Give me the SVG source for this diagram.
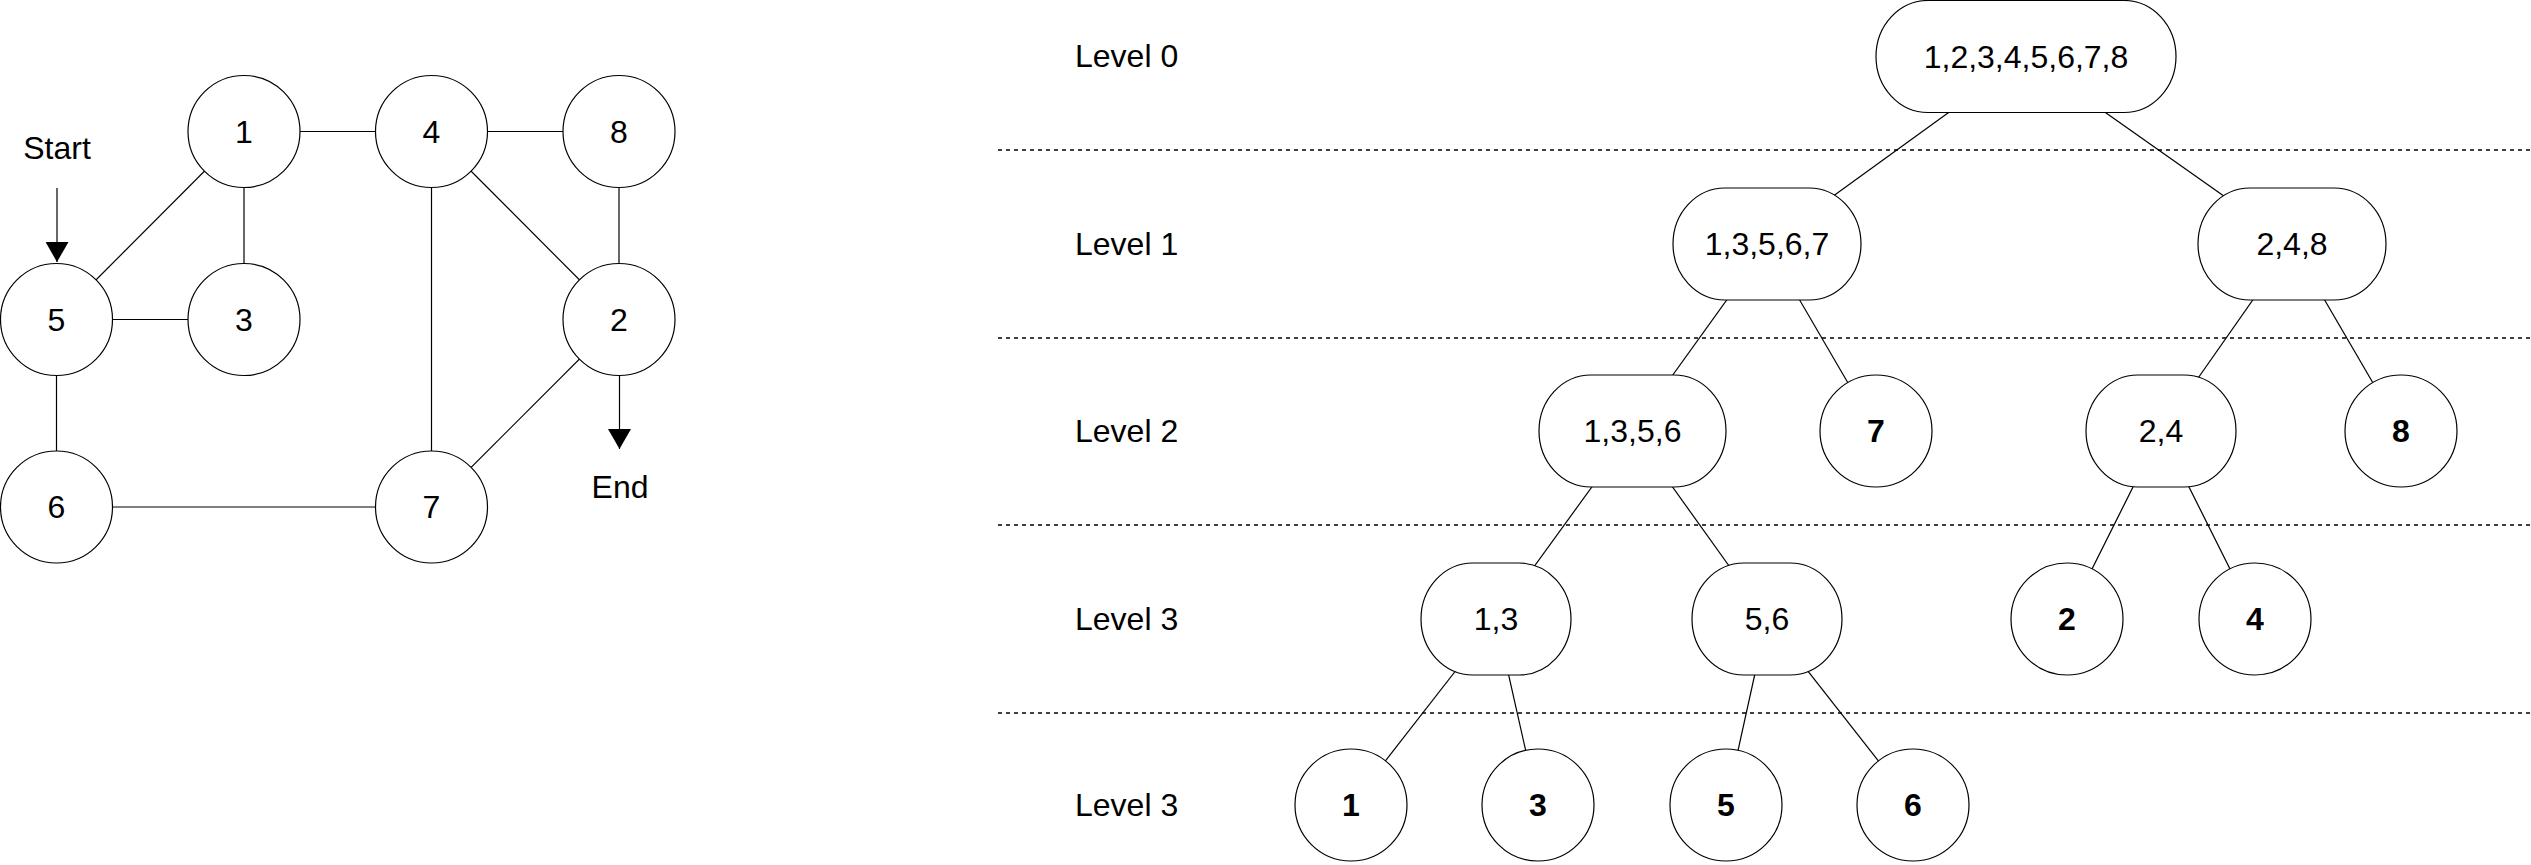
<svg xmlns="http://www.w3.org/2000/svg" width="2531" height="865" viewBox="0 0 2531 865">
  <style>
    .bg { fill: #ffffff; }
    .node { fill: #ffffff; stroke: #000000; stroke-width: 1.2; }
    .edge { stroke: #000000; stroke-width: 1.2; fill: none; }
    .sep { stroke: #000000; stroke-width: 1.3; stroke-dasharray: 4 4; fill: none; }
    .lbl { font-family: "Liberation Sans", Arial, sans-serif; font-size: 32px; fill: #000000; text-anchor: middle; }
    .bold { font-weight: bold; }
    .lvl { font-family: "Liberation Sans", Arial, sans-serif; font-size: 32px; fill: #000000; text-anchor: start; }
  </style>
  <defs>
    <marker id="arrow" viewBox="0 0 20 23" refX="20" refY="11.5" markerWidth="20" markerHeight="23" markerUnits="userSpaceOnUse" orient="auto">
      <path d="M0,0 L20,11.5 L0,23 Z" fill="#000000"/>
    </marker>
  </defs>
  <rect class="bg" x="0" y="0" width="2531" height="865"/>

  <!-- level separators -->
  <g id="separators">
    <line class="sep" x1="998" y1="150" x2="2531" y2="150"/>
    <line class="sep" x1="998" y1="338" x2="2531" y2="338"/>
    <line class="sep" x1="998" y1="525" x2="2531" y2="525"/>
    <line class="sep" x1="998" y1="713" x2="2531" y2="713"/>
  </g>

  <g id="level-labels">
    <text class="lvl" x="1075" y="67">Level 0</text>
    <text class="lvl" x="1075" y="255">Level 1</text>
    <text class="lvl" x="1075" y="442">Level 2</text>
    <text class="lvl" x="1075" y="630">Level 3</text>
    <text class="lvl" x="1075" y="816">Level 3</text>
  </g>

  <!-- connectors -->
  <g id="connectors">
    <!-- graph -->
    <line class="edge" x1="244" y1="131.5" x2="431.5" y2="131.5"/>
    <line class="edge" x1="431.5" y1="131.5" x2="619" y2="131.5"/>
    <line class="edge" x1="244" y1="131.5" x2="244" y2="319.5"/>
    <line class="edge" x1="244" y1="131.5" x2="56.5" y2="319.5"/>
    <line class="edge" x1="56.5" y1="319.5" x2="244" y2="319.5"/>
    <line class="edge" x1="56.5" y1="319.5" x2="56.5" y2="507"/>
    <line class="edge" x1="56.5" y1="507" x2="431.5" y2="507"/>
    <line class="edge" x1="431.5" y1="131.5" x2="431.5" y2="507"/>
    <line class="edge" x1="431.5" y1="131.5" x2="619" y2="319.5"/>
    <line class="edge" x1="619" y1="131.5" x2="619" y2="319.5"/>
    <line class="edge" x1="619" y1="319.5" x2="431.5" y2="507"/>
    <line class="edge" x1="57" y1="188" x2="57" y2="262" marker-end="url(#arrow)"/>
    <line class="edge" x1="619.5" y1="376" x2="619.5" y2="449" marker-end="url(#arrow)"/>
    <!-- tree -->
    <line class="edge" x1="2026" y1="56.5" x2="1767" y2="244"/>
    <line class="edge" x1="2026" y1="56.5" x2="2292" y2="244"/>
    <line class="edge" x1="1767" y1="244" x2="1632.5" y2="431"/>
    <line class="edge" x1="1767" y1="244" x2="1876" y2="431"/>
    <line class="edge" x1="2292" y1="244" x2="2161" y2="431"/>
    <line class="edge" x1="2292" y1="244" x2="2401" y2="431"/>
    <line class="edge" x1="1632.5" y1="431" x2="1496" y2="619"/>
    <line class="edge" x1="1632.5" y1="431" x2="1767" y2="619"/>
    <line class="edge" x1="2161" y1="431" x2="2067" y2="619"/>
    <line class="edge" x1="2161" y1="431" x2="2255" y2="619"/>
    <line class="edge" x1="1496" y1="619" x2="1351" y2="805"/>
    <line class="edge" x1="1496" y1="619" x2="1538" y2="805"/>
    <line class="edge" x1="1767" y1="619" x2="1726" y2="805"/>
    <line class="edge" x1="1767" y1="619" x2="1913" y2="805"/>
  </g>

  <!-- graph nodes -->
  <g id="g1"><circle class="node" cx="244" cy="131.5" r="56"/><text class="lbl" x="244" y="142.5">1</text></g>
  <g id="g4"><circle class="node" cx="431.5" cy="131.5" r="56"/><text class="lbl" x="431.5" y="142.5">4</text></g>
  <g id="g8"><circle class="node" cx="619" cy="131.5" r="56"/><text class="lbl" x="619" y="142.5">8</text></g>
  <g id="g5"><circle class="node" cx="56.5" cy="319.5" r="56"/><text class="lbl" x="56.5" y="330.5">5</text></g>
  <g id="g3"><circle class="node" cx="244" cy="319.5" r="56"/><text class="lbl" x="244" y="330.5">3</text></g>
  <g id="g2"><circle class="node" cx="619" cy="319.5" r="56"/><text class="lbl" x="619" y="330.5">2</text></g>
  <g id="g6"><circle class="node" cx="56.5" cy="507" r="56"/><text class="lbl" x="56.5" y="518">6</text></g>
  <g id="g7"><circle class="node" cx="431.5" cy="507" r="56"/><text class="lbl" x="431.5" y="518">7</text></g>
  <g id="start-label"><text class="lbl" x="57" y="158.5">Start</text></g>
  <g id="end-label"><text class="lbl" x="620" y="498">End</text></g>

  <!-- tree nodes -->
  <g id="t-root"><rect class="node" x="1876" y="0.5" width="300" height="112" rx="52" ry="56"/><text class="lbl" x="2026" y="67.5">1,2,3,4,5,6,7,8</text></g>
  <g id="t-13567"><rect class="node" x="1673" y="188" width="188" height="112" rx="52" ry="56"/><text class="lbl" x="1767" y="255">1,3,5,6,7</text></g>
  <g id="t-248"><rect class="node" x="2198" y="188" width="188" height="112" rx="52" ry="56"/><text class="lbl" x="2292" y="255">2,4,8</text></g>
  <g id="t-1356"><rect class="node" x="1539" y="375" width="187" height="112" rx="52" ry="56"/><text class="lbl" x="1632.5" y="442">1,3,5,6</text></g>
  <g id="t-7"><circle class="node" cx="1876" cy="431" r="56"/><text class="lbl bold" x="1876" y="442">7</text></g>
  <g id="t-24"><rect class="node" x="2086" y="375" width="150" height="112" rx="52" ry="56"/><text class="lbl" x="2161" y="442">2,4</text></g>
  <g id="t-8"><circle class="node" cx="2401" cy="431" r="56"/><text class="lbl bold" x="2401" y="442">8</text></g>
  <g id="t-13"><rect class="node" x="1421" y="563" width="150" height="112" rx="52" ry="56"/><text class="lbl" x="1496" y="630">1,3</text></g>
  <g id="t-56"><rect class="node" x="1692" y="563" width="150" height="112" rx="52" ry="56"/><text class="lbl" x="1767" y="630">5,6</text></g>
  <g id="t-2"><circle class="node" cx="2067" cy="619" r="56"/><text class="lbl bold" x="2067" y="630">2</text></g>
  <g id="t-4"><circle class="node" cx="2255" cy="619" r="56"/><text class="lbl bold" x="2255" y="630">4</text></g>
  <g id="t-1"><circle class="node" cx="1351" cy="805" r="56"/><text class="lbl bold" x="1351" y="816">1</text></g>
  <g id="t-3"><circle class="node" cx="1538" cy="805" r="56"/><text class="lbl bold" x="1538" y="816">3</text></g>
  <g id="t-5"><circle class="node" cx="1726" cy="805" r="56"/><text class="lbl bold" x="1726" y="816">5</text></g>
  <g id="t-6"><circle class="node" cx="1913" cy="805" r="56"/><text class="lbl bold" x="1913" y="816">6</text></g>
</svg>
